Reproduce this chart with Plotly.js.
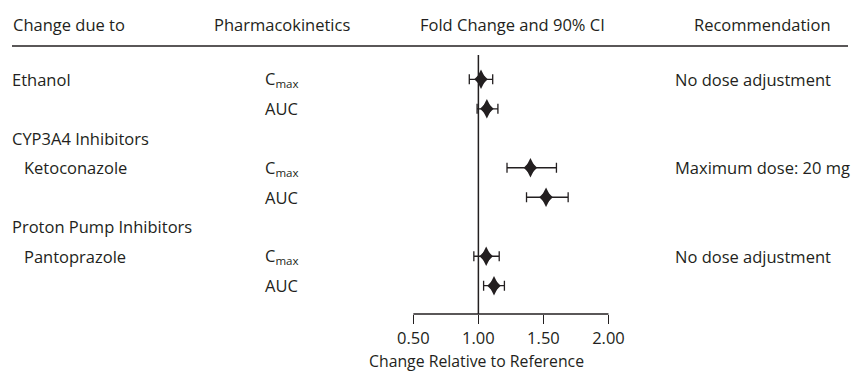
<!DOCTYPE html>
<html>
<head>
<meta charset="utf-8">
<script src="https://cdn.plot.ly/plotly-3.0.1.min.js"></script>
<style>html,body{margin:0;padding:0;background:#fff;}#chart{width:863px;height:371px;}</style>
</head>
<body>
<div id="chart"></div>
<script>
// ---- data ----
const headers = ['Change due to', 'Pharmacokinetics', 'Fold Change and 90% CI', 'Recommendation'];
const rowOrder = ['Ethanol|Cmax', 'Ethanol|AUC', 'CYP3A4 Inhibitors', 'Ketoconazole|Cmax', 'Ketoconazole|AUC',
                  'Proton Pump Inhibitors', 'Pantoprazole|Cmax', 'Pantoprazole|AUC'];
const classLabels = ['CYP3A4 Inhibitors', 'Proton Pump Inhibitors'];
const drugs = ['Ethanol', 'Ketoconazole', 'Pantoprazole'];
const drugIndented = [false, true, true];
const recommendations = ['No dose adjustment', 'Maximum dose: 20 mg', 'No dose adjustment'];
const pkDrug = ['Ethanol', 'Ethanol', 'Ketoconazole', 'Ketoconazole', 'Pantoprazole', 'Pantoprazole'];
const pkParam = ['Cmax', 'AUC', 'Cmax', 'AUC', 'Cmax', 'AUC'];
const pkLabel = {Cmax: 'C<sub>max</sub>', AUC: 'AUC'};
const foldChange = [1.02, 1.065, 1.40, 1.52, 1.06, 1.12];
const ciLower = [0.93, 0.99, 1.22, 1.37, 0.965, 1.04];
const ciUpper = [1.11, 1.15, 1.60, 1.69, 1.16, 1.20];
const tickVals = [0.5, 1.0, 1.5, 2.0];
const tickLabels = ['0.50', '1.00', '1.50', '2.00'];
const xTitle = 'Change Relative to Reference';

// ---- styling ----
const INK = '#231f20';
const FONT = {family: '"Open Sans", "Noto Sans", sans-serif', size: 16.5, color: INK};
const W = 863, H = 371;
const px = v => v / W;

const yKeys = pkDrug.map((d, i) => d + '|' + pkParam[i]);

const traces = [
  {
    type: 'scatter', mode: 'markers',
    x: foldChange, y: yKeys,
    marker: {symbol: 'diamond-tall', size: 14, color: INK, line: {width: 0}},
    error_x: {
      type: 'data', symmetric: false,
      array: foldChange.map((v, i) => ciUpper[i] - v),
      arrayminus: foldChange.map((v, i) => v - ciLower[i]),
      color: INK, thickness: 1.3, width: 5
    },
    cliponaxis: false, hoverinfo: 'skip', showlegend: false
  },
  {
    type: 'scatter', mode: 'markers',
    x: foldChange, y: yKeys,
    marker: {symbol: 'diamond', size: 10.4, color: INK, line: {width: 0}},
    cliponaxis: false, hoverinfo: 'skip', showlegend: false
  }
];

const annotations = [];
// headers
const hdrX = [11, 281.5, 512.5, 762.5];
const hdrAnchor = ['left', 'center', 'center', 'center'];
headers.forEach((h, i) => annotations.push({
  text: h, xref: 'paper', yref: 'paper', x: px(hdrX[i]), y: (314 - 24) / 259,
  xanchor: hdrAnchor[i], yanchor: 'middle', showarrow: false, font: FONT
}));
// class labels
classLabels.forEach(c => annotations.push({
  text: c, xref: 'paper', yref: 'y', x: px(10), y: c,
  xanchor: 'left', yanchor: 'middle', showarrow: false, font: FONT
}));
// drug labels + recommendations
drugs.forEach((d, i) => {
  annotations.push({
    text: d, xref: 'paper', yref: 'y', x: px(drugIndented[i] ? 21.7 : 10), y: d + '|Cmax',
    xanchor: 'left', yanchor: 'middle', showarrow: false, font: FONT
  });
  annotations.push({
    text: recommendations[i], xref: 'paper', yref: 'y', x: px(672.7), y: d + '|Cmax',
    xanchor: 'left', yanchor: 'middle', showarrow: false, font: FONT
  });
});
// PK parameter labels
yKeys.forEach((k, i) => annotations.push({
  text: pkLabel[pkParam[i]], xref: 'paper', yref: 'y', x: px(263), y: k,
  xanchor: 'left', yanchor: 'middle', showarrow: false, font: FONT
}));
// x title
annotations.push({
  text: xTitle, xref: 'paper', yref: 'paper', x: px(476), y: (314 - 361) / 259,
  xanchor: 'center', yanchor: 'middle', showarrow: false, borderpad: 0,
  font: Object.assign({}, FONT, {size: 15.8})
});

const shapes = [
  // header rule
  {type: 'line', xref: 'paper', yref: 'paper', x0: px(12), x1: px(848), y0: (314 - 46) / 259, y1: (314 - 46) / 259,
   line: {color: INK, width: 1.3}},
  // reference line at 1.0
  {type: 'line', xref: 'x', yref: 'paper', x0: 1, x1: 1, y0: 0, y1: 1, line: {color: INK, width: 1.5}},
  // x axis line between first and last tick
  {type: 'line', xref: 'x', yref: 'paper', x0: tickVals[0], x1: tickVals[tickVals.length - 1], y0: 0, y1: 0,
   line: {color: INK, width: 1.5}}
];

const layout = {
  width: W, height: H,
  margin: {l: 0, r: 0, t: 55, b: 57, pad: 0},
  paper_bgcolor: '#ffffff', plot_bgcolor: '#ffffff',
  font: FONT,
  showlegend: false,
  xaxis: {
    range: [-2.6777, 3.9567], showgrid: false, zeroline: false, showline: false,
    tickmode: 'array', tickvals: tickVals, ticktext: tickLabels,
    ticks: 'outside', ticklen: 9, tickwidth: 1.5, tickcolor: INK,
    ticklabelstandoff: 0,
    tickfont: FONT, fixedrange: true
  },
  yaxis: {
    type: 'category', categoryorder: 'array', categoryarray: rowOrder,
    range: [7.959, -0.824], showgrid: false, zeroline: false, showline: false,
    showticklabels: false, ticks: '', fixedrange: true
  },
  annotations: annotations,
  shapes: shapes
};

Plotly.newPlot('chart', traces, layout, {staticPlot: true, displayModeBar: false});
</script>
</body>
</html>
